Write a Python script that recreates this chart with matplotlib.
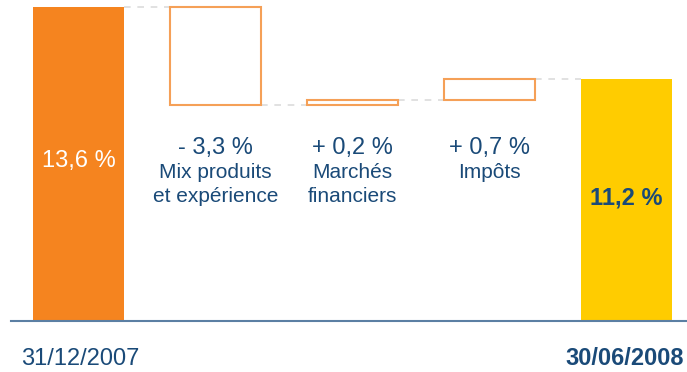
import numpy as np
import matplotlib
matplotlib.use('Agg')
import matplotlib.pyplot as plt

plt.rcParams['font.family'] = ['Liberation Sans', 'DejaVu Sans']

# data
dates = ['31/12/2007', '30/06/2008']
start_value = 13.6
end_value = 11.2
step_names = ['Mix produits\net expérience', 'Marchés\nfinanciers', 'Impôts']
step_values = [-3.3, 0.2, 0.7]

ORANGE = '#f5841f'
YELLOW = '#ffcc00'
EDGE = '#f5a057'
NAVY = '#1a4a78'
BASE = 3.064   # the chart's axis starts here, not at 0

def fmt(v, sign=False):
    s = '%.1f' % abs(v)
    s = s.replace('.', ',') + ' %'
    if sign:
        s = ('+ ' if v >= 0 else '- ') + s
    return s

fig = plt.figure(figsize=(6.87, 3.72), dpi=100)
ax = fig.add_axes([0, 0, 1, 1])
ax.set_xlim(-0.573, 4.442)
ax.set_ylim(1.372, 13.834)
ax.axis('off')

w = 0.664
n = len(step_values) + 2
x = np.arange(n)

# first and last full bars
ax.bar(x[0], start_value - BASE, bottom=BASE, width=w, color=ORANGE, zorder=2)
ax.bar(x[-1], end_value - BASE, bottom=BASE, width=w, color=YELLOW, zorder=2)

# floating steps
level = start_value
levels = [level]
for i, v in enumerate(step_values):
    lo = min(level, level + v)
    ax.bar(x[i + 1], abs(v), bottom=lo, width=w, facecolor='white',
           edgecolor=EDGE, linewidth=1.5, zorder=2)
    level += v
    levels.append(level)

# dashed connectors
for i, lv in enumerate(levels):
    ax.plot([x[i] + w / 2, x[i + 1] - w / 2], [lv, lv], color='#dcdcdc',
            lw=1.2, ls=(0, (4, 4)), zorder=1)

# baseline
ax.axhline(BASE, xmin=11 / 687, xmax=1, color='#5b7fa3', lw=1.5, zorder=3)

# texts
ax.text(x[0], 8.239, fmt(start_value), color='white', fontsize=17,
        ha='center', va='baseline')
ax.text(x[-1], 7.0, fmt(end_value), color=NAVY, fontsize=17,
        fontweight='bold', ha='center', va='baseline')
for i, (name, v) in enumerate(zip(step_names, step_values)):
    ax.text(x[i + 1], 8.675, fmt(v, sign=True), color=NAVY, fontsize=17,
            ha='center', va='baseline')
    lines = name.split('\n')
    for j, line in enumerate(lines):
        ax.text(x[i + 1], 7.871 - j * 0.804, line, color=NAVY, fontsize=15,
                ha='center', va='baseline')

ax.text(-0.42, 1.606, dates[0], color=NAVY, fontsize=17, ha='left',
        va='baseline')
ax.text(4.42, 1.606, dates[1], color=NAVY, fontsize=17, fontweight='bold',
        ha='right', va='baseline')

fig.savefig('out.png', dpi=100)
